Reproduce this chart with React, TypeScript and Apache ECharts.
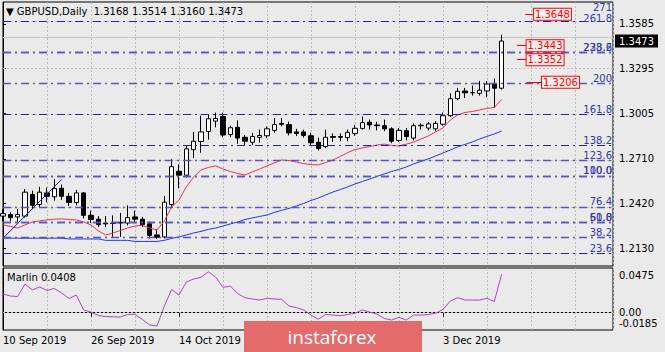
import React, { useEffect, useRef } from 'react';
import * as echarts from 'echarts';

// ---------- data ----------
const dates = [
  '10 Sep', '11 Sep', '12 Sep', '13 Sep', '16 Sep', '17 Sep', '18 Sep', '19 Sep', '20 Sep', '23 Sep',
  '24 Sep', '25 Sep', '26 Sep', '27 Sep', '30 Sep', '1 Oct', '2 Oct', '3 Oct', '4 Oct', '7 Oct',
  '8 Oct', '9 Oct', '10 Oct', '11 Oct', '14 Oct', '15 Oct', '16 Oct', '17 Oct', '18 Oct', '21 Oct',
  '22 Oct', '23 Oct', '24 Oct', '25 Oct', '28 Oct', '29 Oct', '30 Oct', '31 Oct', '1 Nov', '4 Nov',
  '5 Nov', '6 Nov', '7 Nov', '8 Nov', '11 Nov', '12 Nov', '13 Nov', '14 Nov', '15 Nov', '18 Nov',
  '19 Nov', '20 Nov', '21 Nov', '22 Nov', '25 Nov', '26 Nov', '27 Nov', '28 Nov', '29 Nov', '2 Dec',
  '3 Dec', '4 Dec', '5 Dec', '6 Dec', '9 Dec', '10 Dec', '11 Dec', '12 Dec', '13 Dec',
];

const opens = [
  1.2340, 1.2350, 1.2335, 1.2340, 1.2480, 1.2415, 1.2490, 1.2465, 1.2520, 1.2468,
  1.2428, 1.2490, 1.2345, 1.2320, 1.2295, 1.2294, 1.2295, 1.2295, 1.2335, 1.2320,
  1.2290, 1.2218, 1.2205, 1.2415, 1.2630, 1.2605, 1.2770, 1.2823, 1.2888, 1.2955,
  1.2985, 1.2868, 1.2915, 1.2850, 1.2818, 1.2850, 1.2860, 1.2895, 1.2940, 1.2932,
  1.2885, 1.2885, 1.2860, 1.2818, 1.2790, 1.2855, 1.2850, 1.2848, 1.2875, 1.2908,
  1.2947, 1.2930, 1.2925, 1.2905, 1.2830, 1.2893, 1.2845, 1.2925, 1.2910, 1.2905,
  1.2935, 1.2990, 1.3100, 1.3150, 1.3138, 1.3135, 1.3150, 1.3195, 1.3168,
];
const highs = [
  1.2385, 1.2365, 1.2385, 1.2515, 1.2505, 1.2530, 1.2525, 1.2580, 1.2545, 1.2490,
  1.2510, 1.2495, 1.2375, 1.2340, 1.2340, 1.2345, 1.2360, 1.2410, 1.2375, 1.2335,
  1.2305, 1.2255, 1.2470, 1.2708, 1.2675, 1.2800, 1.2885, 1.2990, 1.3000, 1.3010,
  1.3010, 1.2925, 1.2960, 1.2865, 1.2878, 1.2900, 1.2920, 1.2975, 1.2975, 1.2952,
  1.2905, 1.2900, 1.2880, 1.2848, 1.2900, 1.2875, 1.2875, 1.2900, 1.2930, 1.2985,
  1.2965, 1.2950, 1.2965, 1.2915, 1.2910, 1.2910, 1.2940, 1.2940, 1.2950, 1.2955,
  1.3010, 1.3135, 1.3170, 1.3170, 1.3185, 1.3215, 1.3215, 1.3230, 1.3514,
];
const lows = [
  1.2305, 1.2305, 1.2300, 1.2330, 1.2385, 1.2395, 1.2430, 1.2440, 1.2445, 1.2405,
  1.2410, 1.2325, 1.2295, 1.2270, 1.2270, 1.2205, 1.2205, 1.2280, 1.2295, 1.2270,
  1.2195, 1.2192, 1.2195, 1.2400, 1.2520, 1.2590, 1.2715, 1.2750, 1.2835, 1.2915,
  1.2850, 1.2850, 1.2808, 1.2800, 1.2800, 1.2815, 1.2845, 1.2880, 1.2920, 1.2862,
  1.2858, 1.2848, 1.2800, 1.2765, 1.2780, 1.2820, 1.2825, 1.2825, 1.2860, 1.2900,
  1.2900, 1.2895, 1.2890, 1.2812, 1.2820, 1.2830, 1.2830, 1.2900, 1.2895, 1.2890,
  1.2925, 1.2982, 1.3090, 1.3105, 1.3120, 1.3120, 1.3110, 1.3040, 1.3160,
];
const closes = [
  1.2356, 1.2330, 1.2350, 1.2495, 1.2410, 1.2495, 1.2468, 1.2518, 1.2468, 1.2428,
  1.2490, 1.2345, 1.2318, 1.2285, 1.2290, 1.2292, 1.2300, 1.2330, 1.2320, 1.2285,
  1.2215, 1.2203, 1.2430, 1.2660, 1.2605, 1.2775, 1.2825, 1.2885, 1.2970, 1.2972,
  1.2865, 1.2912, 1.2845, 1.2825, 1.2855, 1.2862, 1.2905, 1.2932, 1.2934, 1.2878,
  1.2875, 1.2862, 1.2815, 1.2778, 1.2850, 1.2850, 1.2855, 1.2882, 1.2908, 1.2945,
  1.2930, 1.2925, 1.2905, 1.2825, 1.2895, 1.2855, 1.2925, 1.2928, 1.2937, 1.2940,
  1.2990, 1.3100, 1.3148, 1.3138, 1.3140, 1.3155, 1.3195, 1.3168, 1.3473,
];

const redLine = [
  1.2283, 1.2273, 1.2263, 1.2283, 1.2302, 1.2309, 1.2315, 1.2320, 1.2322, 1.2318,
  1.2315, 1.2302, 1.2283, 1.2244, 1.2218, 1.2231, 1.2247, 1.2263, 1.2276, 1.2280,
  1.2263, 1.2250, 1.2309, 1.2399, 1.2445, 1.2529, 1.2593, 1.2639, 1.2655, 1.2665,
  1.2645, 1.2629, 1.2616, 1.2606, 1.2626, 1.2645, 1.2665, 1.2684, 1.2703, 1.2700,
  1.2690, 1.2680, 1.2674, 1.2671, 1.2687, 1.2703, 1.2726, 1.2751, 1.2771, 1.2781,
  1.2790, 1.2800, 1.2806, 1.2797, 1.2794, 1.2806, 1.2819, 1.2839, 1.2859, 1.2885,
  1.2911, 1.2962, 1.2995, 1.3011, 1.3017, 1.3027, 1.3037, 1.3043, 1.3095,
];
const blueLine = [
  1.2197, 1.2197, 1.2197, 1.2197, 1.2197, 1.2197, 1.2197, 1.2197, 1.2197, 1.2192,
  1.2192, 1.2192, 1.2192, 1.2192, 1.2183, 1.2183, 1.2183, 1.2183, 1.2176, 1.2176,
  1.2176, 1.2176, 1.2183, 1.2196, 1.2205, 1.2218, 1.2231, 1.2241, 1.2254, 1.2263,
  1.2276, 1.2289, 1.2302, 1.2318, 1.2328, 1.2338, 1.2347, 1.2364, 1.2377, 1.2390,
  1.2406, 1.2422, 1.2441, 1.2457, 1.2477, 1.2496, 1.2512, 1.2529, 1.2548, 1.2564,
  1.2580, 1.2597, 1.2613, 1.2629, 1.2642, 1.2658, 1.2678, 1.2694, 1.2710, 1.2729,
  1.2749, 1.2768, 1.2788, 1.2804, 1.2820, 1.2839, 1.2856, 1.2872, 1.2891,
];
const marlin = [
  0.0198, 0.0177, 0.0171, 0.0304, 0.0241, 0.0273, 0.0235, 0.0257, 0.0209, 0.0150,
  0.0187, 0.0028, 0.0006, -0.0031, -0.0042, -0.0044, -0.0047, -0.0020, -0.0018, -0.0073,
  -0.0132, -0.0143, 0.0070, 0.0246, 0.0187, 0.0326, 0.0358, 0.0376, 0.0435, 0.0379,
  0.0269, 0.0283, 0.0203, 0.0159, 0.0145, 0.0134, 0.0152, 0.0145, 0.0142, 0.0070,
  0.0054, 0.0028, -0.0026, -0.0071, -0.0020, -0.0026, -0.0033, -0.0020, -0.0007, 0.0028,
  0.0006, -0.0015, -0.0063, -0.0079, -0.0050, -0.0079, -0.0026, -0.0026, -0.0020, -0.0007,
  0.0035, 0.0123, 0.0159, 0.0134, 0.0134, 0.0134, 0.0152, 0.0118, 0.0408,
];

const trendIdx = [0, 8];
const trendPrice = [1.2197, 1.2578];

const priceTicks = [1.2130, 1.2420, 1.2710, 1.3005, 1.3295, 1.3585];
const marlinTopTick = [0.0475];
const marlinZeroTick = [0];
const marlinBottomTick = [-0.0185];
// date labels visible in the reference (the ones at 30 Oct / 15 Nov sit under the logo)
const dateTickIdx = [0, 12, 24, 60];

const fibLevels = [271, 261.8, 238.2, 223.6, 200, 161.8, 138.2, 123.6, 110.0, 100.0, 76.4, 61.8, 50.0, 38.2, 23.6];
const fibLabels = ['271', '261.8', '238.2', '223.6', '200', '161.8', '138.2', '123.6', '110.0', '100.0', '76.4', '61.8', '50.0', '38.2', '23.6'];
const fibDarkLevels = [271, 261.8, 161.8, 138.2, 23.6];
const fibLow = 1.1966;
const fibHigh = 1.2586;

const noteTexts = ['1.3648', '1.3443', '1.3352', '1.3206'];
const noteLevels = [271, 238.2, 223.6, 200];

// ---------- layout ----------
const BAR_PX = 7.333;
const X_MAX = 610 / BAR_PX;
const Y_MIN = 1.2017;
const Y_MAX = 1.3726;
const M_MIN = -0.0185;
const M_MAX = 0.0475;
const noteFrom = [71.2, 70.1, 70.1, 71.4];
const noteTo = [72.4, 71.4, 71.4, 73.5];
const fibLabelGap = [10, -1, 1, 1, 1, 1, 1, 1, 1, 1, 1, 1, 1, 1, 1];
const FONT = 'DejaVu Sans';

const fibPrice = (lv: number) => fibLow + ((fibHigh - fibLow) * lv) / 100;

function buildOption() {
  const n = closes.length;
  const candleData = dates.map((_, i) => [i, opens[i], closes[i], lows[i], highs[i]]);
  const last = n - 1;
  const gridLine = { color: '#B9B9B9', type: [2, 2] as any, width: 1 };
  const lab = { fontSize: 10, color: '#000', fontFamily: FONT };

  return {
    animation: false,
    backgroundColor: '#EAEAEA',
    textStyle: { fontFamily: FONT },
    title: [
      {
        text: `▼ GBPUSD,Daily  ${opens[last].toFixed(4)} ${highs[last].toFixed(4)} ${lows[last].toFixed(4)} ${closes[last].toFixed(4)}`,
        left: 6, top: 6, padding: 0,
        textStyle: { fontSize: 10, fontWeight: 'normal', color: '#000', fontFamily: FONT },
      },
      {
        text: `Marlin ${marlin[last].toFixed(4)}`,
        left: 7, top: 272, padding: 0,
        textStyle: { fontSize: 10, fontWeight: 'normal', color: '#000', fontFamily: FONT },
      },
    ],
    grid: [
      { left: 3, top: 2, width: 610, height: 264, show: true, borderColor: '#000', borderWidth: 1, backgroundColor: 'transparent' },
      { left: 3, top: 268, width: 610, height: 62, show: true, borderColor: '#000', borderWidth: 1, backgroundColor: 'transparent' },
    ],
    xAxis: [
      {
        gridIndex: 0, type: 'value', position: 'bottom', min: 0, max: X_MAX, interval: 6,
        axisLine: { show: false }, axisTick: { show: false }, axisLabel: { show: false },
        splitLine: { show: true, lineStyle: gridLine },
      },
      {
        gridIndex: 1, type: 'value', position: 'bottom', min: 0, max: X_MAX, interval: 6,
        axisLine: { show: true, lineStyle: { color: '#000' } }, axisTick: { show: false }, axisLabel: { show: false },
        splitLine: { show: true, lineStyle: gridLine },
      },
      {
        gridIndex: 1, type: 'value', position: 'bottom', min: 0, max: X_MAX,
        axisLine: { show: false },
        axisTick: { show: true, customValues: dateTickIdx, length: 4, lineStyle: { color: '#000' } },
        axisLabel: {
          show: true, customValues: dateTickIdx, align: 'left', margin: 5, ...lab,
          formatter: (v: number) => `${dates[Math.round(v)]} 2019`,
        },
        splitLine: { show: false },
      },
    ],
    yAxis: [
      {
        gridIndex: 0, type: 'value', position: 'right', min: Y_MIN, max: Y_MAX,
        axisLine: { show: true, lineStyle: { color: '#000' } },
        axisTick: { show: true, customValues: priceTicks, length: 3, lineStyle: { color: '#000' } },
        axisLabel: { show: true, customValues: priceTicks, margin: 6, ...lab, formatter: (v: number) => v.toFixed(4) },
        splitLine: { show: false },
      },
      {
        gridIndex: 0, type: 'value', position: 'right', min: Y_MIN, max: Y_MAX,
        axisLine: { show: false }, axisTick: { show: false },
        axisLabel: {
          show: true, customValues: [closes[last]], margin: 2, fontSize: 10, fontFamily: FONT,
          color: '#fff', backgroundColor: '#000', padding: [2, 4, 1, 4],
          formatter: (v: number) => v.toFixed(4),
        },
        splitLine: { show: false },
      },
      {
        gridIndex: 1, type: 'value', position: 'right', min: M_MIN, max: M_MAX,
        axisLine: { show: true, lineStyle: { color: '#000' } },
        axisTick: { show: true, customValues: marlinZeroTick, length: 3, lineStyle: { color: '#000' } },
        axisLabel: { show: true, customValues: marlinZeroTick, margin: 6, ...lab, formatter: () => '0.00' },
        splitLine: { show: false },
      },
      {
        gridIndex: 1, type: 'value', position: 'right', min: M_MIN, max: M_MAX,
        axisLine: { show: false }, axisTick: { show: false },
        axisLabel: {
          show: true, customValues: marlinTopTick, margin: 6, ...lab, verticalAlign: 'top', padding: [2, 0, 0, 0],
          formatter: (v: number) => v.toFixed(4),
        },
        splitLine: { show: false },
      },
      {
        gridIndex: 1, type: 'value', position: 'right', min: M_MIN, max: M_MAX,
        axisLine: { show: false }, axisTick: { show: false },
        axisLabel: {
          show: true, customValues: marlinBottomTick, margin: 6, ...lab, verticalAlign: 'bottom', padding: [0, 0, 2, 0],
          formatter: (v: number) => v.toFixed(4),
        },
        splitLine: { show: false },
      },
    ],
    series: [
      {
        name: 'GBPUSD', type: 'candlestick', xAxisIndex: 0, yAxisIndex: 0,
        data: candleData, encode: { x: 0, y: [1, 2, 3, 4] },
        barWidth: 5, z: 3,
        itemStyle: { color: '#FFFFFF', color0: '#000000', borderColor: '#000000', borderColor0: '#000000', borderWidth: 1 },
      },
      {
        name: 'MA slow', type: 'line', xAxisIndex: 0, yAxisIndex: 0, z: 4,
        data: blueLine.map((v, i) => [i, v]), showSymbol: false, symbol: 'none',
        lineStyle: { color: '#2236E4', width: 1 },
        markLine: {
          silent: true, symbol: ['none', 'none'], z: 1, animation: false,
          label: { show: false },
          data: [
            ...priceTicks.map((v) => ({ yAxis: v, lineStyle: { color: '#BDBDBD', type: [2, 2], width: 1 } })),
            { yAxis: closes[last], lineStyle: { color: '#C6C6C6', type: 'solid', width: 1 } },
          ],
        },
      },
      {
        name: 'MA fast', type: 'line', xAxisIndex: 0, yAxisIndex: 0, z: 4,
        data: redLine.map((v, i) => [i, v]), showSymbol: false, symbol: 'none',
        lineStyle: { color: '#E6334F', width: 1 },
        markLine: {
          silent: true, symbol: ['none', 'none'], z: 5, animation: false,
          label: {
            show: true, position: 'insideEndTop', distance: [1, 1],
            color: '#3535A8', fontSize: 10, lineHeight: 8, fontFamily: FONT,
          },
          data: fibLevels.map((lv, k) => {
            const dark = fibDarkLevels.indexOf(lv) >= 0;
            return {
              yAxis: fibPrice(lv),
              label: { formatter: fibLabels[k], distance: [1, fibLabelGap[k]] },
              lineStyle: { color: dark ? '#22229C' : '#5656BE', width: dark ? 1 : 1.4, type: [8, 4, 2, 4] },
            };
          }),
        },
      },
      {
        name: 'Trend', type: 'line', xAxisIndex: 0, yAxisIndex: 0, z: 4,
        data: trendIdx.map((x, i) => [x, trendPrice[i]]), showSymbol: false, symbol: 'none',
        lineStyle: { color: '#1C1C9A', width: 1 },
        markLine: {
          silent: true, symbol: ['none', 'none'], z: 6, animation: false,
          data: noteTexts.map((t, k) => [
            {
              coord: [noteFrom[k], fibPrice(noteLevels[k])],
              lineStyle: { color: '#FF0000', type: 'solid', width: 1 },
              label: {
                show: true, position: 'end', distance: 0, formatter: t,
                color: '#FF0000', fontSize: 10, fontFamily: FONT,
                borderColor: '#FF0000', borderWidth: 1, backgroundColor: '#F3F1F1', padding: [1, 1, 0, 1],
              },
            },
            { coord: [noteTo[k], fibPrice(noteLevels[k])] },
          ]),
        },
      },
      {
        name: 'Marlin', type: 'line', xAxisIndex: 1, yAxisIndex: 2, z: 4,
        data: marlin.map((v, i) => [i, v]), showSymbol: false, symbol: 'none',
        lineStyle: { color: '#AD45C2', width: 1 },
        markLine: {
          silent: true, symbol: ['none', 'none'], z: 1, animation: false,
          label: { show: false },
          data: marlinZeroTick.map((v) => ({ yAxis: v, lineStyle: { color: '#BDBDBD', type: [2, 2], width: 1 } })),
        },
      },
    ],
    graphic: [
      {
        type: 'rect', z: 100, zlevel: 0,
        shape: { x: 244, y: 321, width: 178, height: 31 },
        style: { fill: '#E36B6B' },
      },
      {
        type: 'text', z: 101, zlevel: 0, x: 332, y: 337,
        style: { text: 'instaforex', fill: '#FFFFFF', fontSize: 19, fontFamily: 'Open Sans', align: 'center', verticalAlign: 'middle' },
      },
    ],
  };
}

export default function App() {
  const ref = useRef<HTMLDivElement>(null);
  useEffect(() => {
    if (!ref.current) return;
    const chart = echarts.init(ref.current, null, { renderer: 'svg' });
    chart.setOption(buildOption() as any);
    return () => chart.dispose();
  }, []);
  return (
    <div
      ref={ref}
      style={{ position: 'absolute', left: 0, top: 0, width: 665, height: 352, background: '#EAEAEA' }}
    />
  );
}
